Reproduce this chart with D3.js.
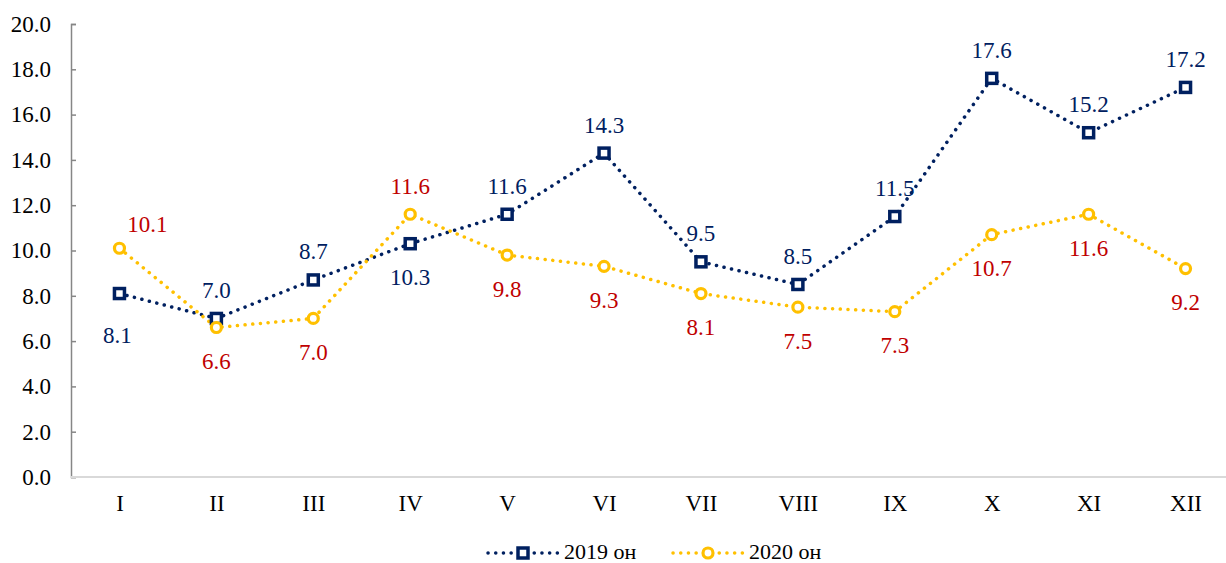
<!DOCTYPE html>
<html>
<head>
<meta charset="utf-8">
<script src="https://cdn.jsdelivr.net/npm/d3@7"></script>
<style>
  body { margin: 0; background: #fff; }
  text { font-family: "Liberation Serif", "Times New Roman", serif; }
</style>
</head>
<body>
<div id="chart"></div>
<script>

// Chart data
var months = ["I", "II", "III", "IV", "V", "VI", "VII", "VIII", "IX", "X", "XI", "XII"];
var values2019 = [8.1, 7.0, 8.7, 10.3, 11.6, 14.3, 9.5, 8.5, 11.5, 17.6, 15.2, 17.2];
var values2020 = [10.1, 6.6, 7.0, 11.6, 9.8, 9.3, 8.1, 7.5, 7.3, 10.7, 11.6, 9.2];
var yTicks = [0, 2, 4, 6, 8, 10, 12, 14, 16, 18, 20];
var seriesNames = ["2019 он", "2020 он"];

// Where each data label sits relative to its point
var labelPlace2019 = ["bb", "a", "a", "b", "a", "a", "a", "a", "a", "a", "a", "a"];
var labelPlace2020 = ["ar", "b", "b", "a", "b", "b", "b", "b", "b", "b", "b", "b"];

var width = 1226,
    height = 563;

var margin = { top: 24, left: 71, bottom: 86, right: -8 };

var navy = "#002060",
    gold = "#FFC000",
    red = "#C00000";

var svg = d3.select("#chart").append("svg")
    .attr("width", width)
    .attr("height", height);

// Scales
var xScale = d3.scalePoint()
    .domain(months)
    .range([margin.left, width - margin.right])
    .padding(0.5);

var yScale = d3.scaleLinear()
    .domain([0, 20])
    .range([height - margin.bottom, margin.top]);

// Y axis
var yAxis = d3.axisLeft(yScale)
    .tickValues(yTicks)
    .tickSize(-5)
    .tickPadding(20)
    .tickFormat(d3.format(".1f"));

var yAxisGroup = svg.append("g")
    .attr("transform", "translate(" + margin.left + ",0)")
    .call(yAxis);

yAxisGroup.select(".domain")
    .attr("stroke", "#868686")
    .attr("stroke-width", 1.5);
yAxisGroup.selectAll(".tick line")
    .attr("stroke", "#868686")
    .attr("stroke-width", 1.5);
yAxisGroup.selectAll(".tick text")
    .style("font-size", "23px")
    .attr("fill", "#000");

// X axis
var xAxis = d3.axisBottom(xScale)
    .tickSize(0)
    .tickPadding(18);

var xAxisGroup = svg.append("g")
    .attr("transform", "translate(0," + yScale(0) + ")")
    .call(xAxis);

xAxisGroup.select(".domain")
    .attr("d", "M" + margin.left + ",0H" + (width - margin.right))
    .attr("stroke", "#D9D9D9")
    .attr("stroke-width", 2);
xAxisGroup.selectAll(".tick text")
    .style("font-size", "23px")
    .attr("fill", "#000");

// Lines
var line = d3.line()
    .x(function(d, i) { return xScale(months[i]); })
    .y(function(d) { return yScale(d); });

function drawLine(values, color) {
    svg.append("path")
        .datum(values)
        .attr("fill", "none")
        .attr("stroke", color)
        .attr("stroke-width", 3.5)
        .attr("stroke-linecap", "round")
        .attr("stroke-dasharray", "0.1 7.6")
        .attr("d", line);
}

drawLine(values2019, navy);
drawLine(values2020, gold);

// Markers
svg.append("g").selectAll("rect")
    .data(values2019)
    .enter()
    .append("rect")
    .attr("x", function(d, i) { return xScale(months[i]) - 5; })
    .attr("y", function(d) { return yScale(d) - 5; })
    .attr("width", 10)
    .attr("height", 10)
    .attr("fill", "#fff")
    .attr("stroke", navy)
    .attr("stroke-width", 3.5);

svg.append("g").selectAll("circle")
    .data(values2020)
    .enter()
    .append("circle")
    .attr("cx", function(d, i) { return xScale(months[i]); })
    .attr("cy", function(d) { return yScale(d); })
    .attr("r", 5)
    .attr("fill", "#fff")
    .attr("stroke", gold)
    .attr("stroke-width", 3.2);

// Data labels
var offsets = {
    a: [0, -28],
    b: [0, 34],
    bb: [-2, 42],
    ar: [28, -24]
};

function drawLabels(values, places, color) {
    svg.append("g").selectAll("text")
        .data(values)
        .enter()
        .append("text")
        .attr("x", function(d, i) { return xScale(months[i]) + offsets[places[i]][0]; })
        .attr("y", function(d, i) { return yScale(d) + offsets[places[i]][1]; })
        .attr("text-anchor", "middle")
        .attr("dominant-baseline", "central")
        .attr("fill", color)
        .style("font-size", "23px")
        .text(function(d) { return d.toFixed(1); });
}

drawLabels(values2019, labelPlace2019, navy);
drawLabels(values2020, labelPlace2020, red);

// Legend
var legendY = 553;
var legendItems = [
    { name: seriesNames[0], color: navy, x: 488, shape: "rect" },
    { name: seriesNames[1], color: gold, x: 673, shape: "circle" }
];

legendItems.forEach(function(item) {
    var g = svg.append("g");

    g.append("line")
        .attr("x1", item.x)
        .attr("x2", item.x + 70)
        .attr("y1", legendY)
        .attr("y2", legendY)
        .attr("stroke", item.color)
        .attr("stroke-width", 3.5)
        .attr("stroke-linecap", "round")
        .attr("stroke-dasharray", "0.1 7.6");

    if (item.shape == "rect") {
        g.append("rect")
            .attr("x", item.x + 35 - 5)
            .attr("y", legendY - 5)
            .attr("width", 10)
            .attr("height", 10)
            .attr("fill", "#fff")
            .attr("stroke", item.color)
            .attr("stroke-width", 3.5);
    } else {
        g.append("circle")
            .attr("cx", item.x + 35)
            .attr("cy", legendY)
            .attr("r", 5)
            .attr("fill", "#fff")
            .attr("stroke", item.color)
            .attr("stroke-width", 3.2);
    }

    g.append("text")
        .attr("x", item.x + 76)
        .attr("y", legendY - 2)
        .attr("dominant-baseline", "central")
        .attr("fill", "#000")
        .style("font-size", "22px")
        .text(item.name);
});

</script>
</body>
</html>
